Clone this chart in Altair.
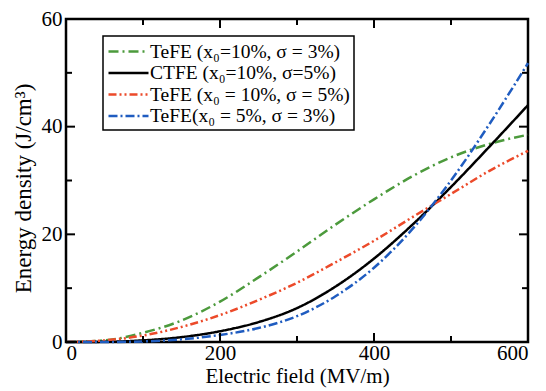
import altair as alt
import pandas as pd

field = [0, 50, 100, 150, 200, 250, 300, 350, 400, 450, 500, 550, 600]
tefe_10_3 = [0, 0.3, 1.7, 4.0, 7.5, 12.0, 16.8, 21.8, 26.5, 30.8, 34.3, 36.8, 38.5]
ctfe_10_5 = [0, 0.03, 0.3, 0.9, 2.0, 3.7, 6.3, 10.3, 15.5, 21.8, 28.8, 36.3, 44.0]
tefe_10_5 = [0, 0.3, 1.2, 2.8, 5.0, 7.8, 11.0, 14.8, 18.8, 23.2, 27.5, 31.8, 35.5]
tefe_5_3 = [0, 0.0, 0.1, 0.5, 1.3, 2.6, 4.8, 8.5, 13.8, 21.0, 30.0, 40.5, 51.8]

names = [
    "TeFE (x₀=10%, σ = 3%)",
    "CTFE (x₀=10%, σ=5%)",
    "TeFE (x₀ = 10%, σ = 5%)",
    "TeFE(x₀ = 5%, σ = 3%)",
]
colors = ["#4c9a3c", "#000000", "#ec4a2a", "#1f5cc0"]
dashes = [[10, 4, 2, 4], [1, 0], [8, 3, 2, 3, 2, 3], [9, 3, 2, 3]]

rows = []
for name, vals in zip(names, [tefe_10_3, ctfe_10_5, tefe_10_5, tefe_5_3]):
    for f, v in zip(field, vals):
        rows.append({"field": f, "energy": v, "series": name})
df = pd.DataFrame(rows)

x_major = [0, 200, 400, 600]
x_minor = [100, 300, 500]
y_major = [0, 20, 40, 60]
y_minor = [10, 30, 50]

W, H = 462, 323
XMAX, YMAX = 600, 60
major_len, minor_len = 9, 6

tick_rows = []
for v in x_major + x_minor:
    L = major_len if v in x_major else minor_len
    dy = L * YMAX / H
    tick_rows.append({"x": v, "x2": v, "y": 0, "y2": dy})
    tick_rows.append({"x": v, "x2": v, "y": YMAX, "y2": YMAX - dy})
for v in y_major + y_minor:
    L = major_len if v in y_major else minor_len
    dx = L * XMAX / W
    tick_rows.append({"x": 0, "x2": dx, "y": v, "y2": v})
    tick_rows.append({"x": XMAX, "x2": XMAX - dx, "y": v, "y2": v})
ticks = pd.DataFrame(tick_rows)

FONT = "Liberation Serif"
xscale = alt.Scale(domain=[0, XMAX], nice=False)
yscale = alt.Scale(domain=[0, YMAX], nice=False)

leg = alt.Legend(title=None, orient="none", legendX=37, legendY=17)
lines = alt.Chart(df).mark_line(strokeWidth=2.5, interpolate="monotone").encode(
    x=alt.X("field:Q", scale=xscale,
            axis=alt.Axis(title="Electric field (MV/m)", values=x_major, tickSize=0,
                          grid=False, labelPadding=0, titlePadding=2,
                          labelFontSize=21, titleFontSize=21)),
    y=alt.Y("energy:Q", scale=yscale,
            axis=alt.Axis(title="Energy density (J/cm³)", values=y_major, tickSize=0,
                          grid=False, labelPadding=4, titlePadding=6,
                          labelFontSize=21, titleFontSize=23, titleY=169)),
    color=alt.Color("series:N", scale=alt.Scale(domain=names, range=colors), legend=leg),
    strokeDash=alt.StrokeDash("series:N", scale=alt.Scale(domain=names, range=dashes), legend=leg),
    order=alt.Order("field:Q"),
)

tick_layer = alt.Chart(ticks).mark_rule(color="black", strokeWidth=2).encode(
    x="x:Q", x2="x2:Q", y="y:Q", y2="y2:Q"
)

chart = alt.layer(lines, tick_layer).properties(
    width=W, height=H,
    autosize=alt.AutoSizeParams(type="none"),
    padding={"left": 58, "top": 11, "right": 10, "bottom": 49},
).configure(
    font=FONT
).configure_view(
    stroke="black", strokeWidth=2.5
).configure_axis(
    domain=False, labelFont=FONT, titleFont=FONT,
    labelColor="black", titleColor="black", titleFontWeight="normal",
).configure_legend(
    labelFont=FONT, labelFontSize=19.5, labelColor="black", symbolType="M-1,0H3",
    symbolSize=400, symbolStrokeWidth=2.5, strokeColor="black", strokeWidth=1.5,
    padding=4, rowPadding=0.5, labelLimit=400, fillColor="white", labelOffset=20,
)

chart.save("out.html", embed_options={"renderer": "svg", "actions": False})
